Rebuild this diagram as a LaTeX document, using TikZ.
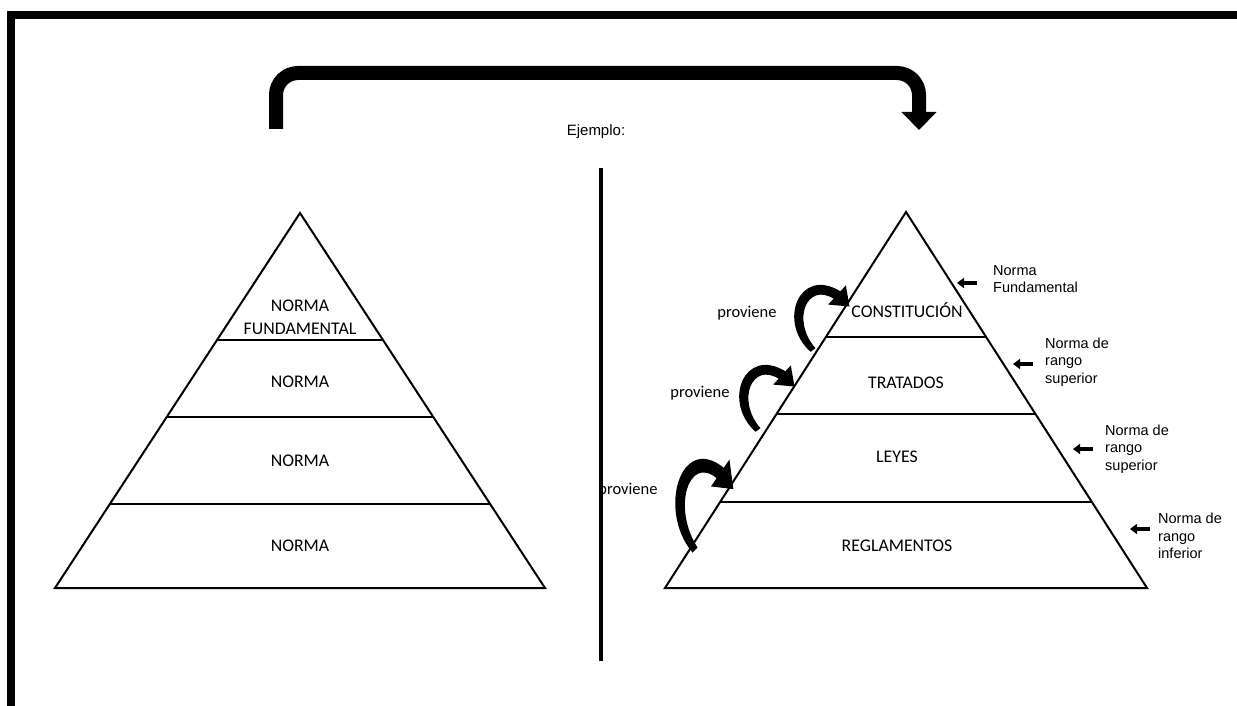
\documentclass[tikz,border=0pt]{standalone}
\usepackage{fontspec}
\setmainfont{Carlito}
\newfontfamily\arialfont{Liberation Sans}
\usetikzlibrary{positioning, arrows.meta, calc}

\begin{document}
\begin{tikzpicture}[x=1pt, y=-1pt]
        \tikzstyle{level} = [font=\fontsize{17.8}{23}\selectfont, align=center, inner sep=0pt]
        \tikzstyle{side} = [font=\arialfont\fontsize{14.5}{17.5}\selectfont, align=left, anchor=west, inner sep=0pt]
        \tikzstyle{why} = [font=\fontsize{16.5}{19}\selectfont, inner sep=0pt]
        \tikzstyle{edge} = [line width=2pt]
        \tikzstyle{bigarrow} = [line width=14pt, rounded corners=22pt, -{Triangle[length=18pt, width=34pt]}]
        \tikzstyle{smallarrow} = [line width=4pt, -{Triangle[length=7pt, width=10pt]}]
        \tikzset{curvy/.pic={
            \fill (-2.4,1.8) .. controls (-36,-28) and (-14,-84) .. (27.4,-58.7) -- (32.8,-64.6) -- (36.5,-43.5)
                -- (15.2,-45.4) -- (20.6,-51.3) .. controls (-6,-68) and (-22,-30) .. (2.4,-1.8) -- cycle;}}

        \useasboundingbox (0,0) rectangle (1237,706);
        \draw [line width=8pt] (11,720) -- (11,15) -- (1250,15);

        \coordinate (from) at (276,129);
        \coordinate (to) at (919,130);
        \draw [bigarrow] (from) -- ++(0,-56) -| (to);

        \node (ej) [font=\arialfont\fontsize{15}{18}\selectfont] at (596,132) {Ejemplo:};
        \coordinate (dtop) at (601,168);
        \coordinate (dbot) at (601,661);
        \draw [line width=4pt] (dtop) -- (dbot);

        \coordinate (ltop) at (300,213);
        \coordinate (lbl) at (55,588);
        \coordinate (lbr) at (545,588);
        \draw [edge] (ltop) -- (lbl) -- (lbr) -- cycle;
        \foreach \f in {0.339, 0.544, 0.776}
            \draw [edge] ($(ltop)!\f!(lbl)$) -- ($(ltop)!\f!(lbr)$);

        \node (fund) [level] at (300,317) {NORMA\\FUNDAMENTAL};
        \node (n1) [level] at (300,382) {NORMA};
        \node (n2) [level] at (300,461) {NORMA};
        \node (n3) [level] at (300,546) {NORMA};

        \coordinate (rtop) at (906,212);
        \coordinate (rbl) at (665,588);
        \coordinate (rbr) at (1147,588);
        \draw [edge] (rtop) -- (rbl) -- (rbr) -- cycle;
        \foreach \f in {0.332, 0.537, 0.771}
            \draw [edge] ($(rtop)!\f!(rbl)$) -- ($(rtop)!\f!(rbr)$);

        \node (cons) [level] at (907,310) {CONSTITUCIÓN};
        \node (trat) [level] at (906,383) {TRATADOS};
        \node (leyes) [level] at (897,457) {LEYES};
        \node (regl) [level] at (897,546) {REGLAMENTOS};

        \node (p1) [why] at (747,313) {proviene};
        \node (p2) [why] at (700,393) {proviene};
        \node (p3) [why] at (628,490) {proviene};
        \pic at (813,350) {curvy};
        \pic at (758,430) {curvy};
        \pic [xscale=1.05, yscale=1.4] at (695,550) {curvy};

        \node (nf) [side] at (993,279) {Norma\\Fundamental};
        \node (ns1) [side] at (1045,362) {Norma de\\rango\\superior};
        \node (ns2) [side] at (1105,449) {Norma de\\rango\\superior};
        \node (ni) [side] at (1158,536) {Norma de\\rango\\inferior};

        \draw [smallarrow] ([xshift=-16pt, yshift=-4pt]nf.west) -- ++(-20,0);
        \draw [smallarrow] ([xshift=-12pt, yshift=-2pt]ns1.west) -- ++(-20,0);
        \draw [smallarrow] ([xshift=-12pt]ns2.west) -- ++(-20,0);
        \draw [smallarrow] ([xshift=-8pt, yshift=7pt]ni.west) -- ++(-20,0);
    \end{tikzpicture}
\end{document}
